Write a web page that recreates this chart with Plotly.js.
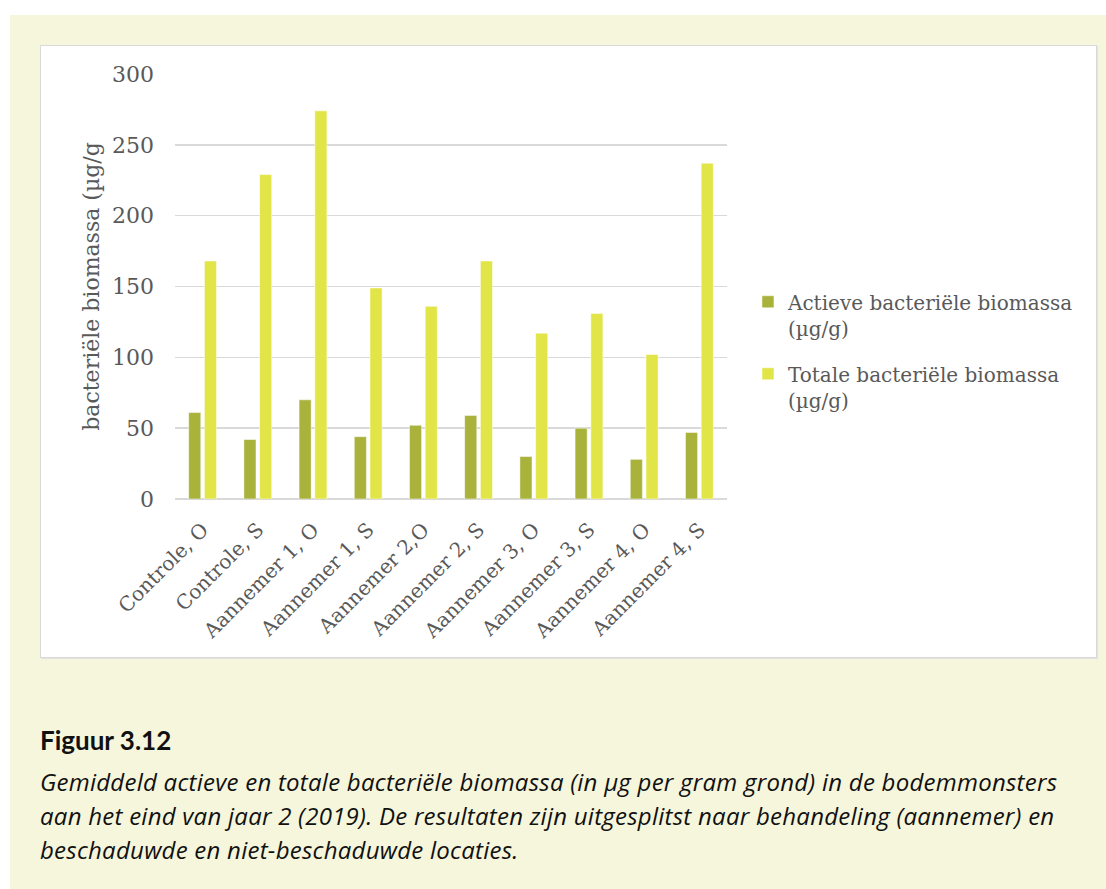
<!DOCTYPE html>
<html>
<head>
<meta charset="utf-8">
<script src="https://cdn.plot.ly/plotly-3.0.1.min.js"></script>
<style>
  html, body { margin:0; padding:0; background:#ffffff; width:1106px; height:889px; overflow:hidden; }
  #panel { position:absolute; left:10px; top:15px; width:1096px; height:874px; background:#f6f6dc; }
  #box { position:absolute; left:40px; top:45px; width:1055px; height:611px; background:#ffffff; border:1.5px solid #d9d9d9; box-shadow:1px 1px 1px #e4e4e4; }
  #chart { position:absolute; left:41px; top:46px; width:1056px; height:612px; }
  #caption { position:absolute; left:40px; top:724px; width:1066px; color:#111; }
  #caption .head { font-family:Lato, sans-serif; font-weight:bold; font-size:26px; line-height:32px; margin-bottom:9px; }
  #caption .body { font-family:"Open Sans", sans-serif; font-style:italic; font-size:24px; letter-spacing:0.25px; line-height:34px; white-space:nowrap; }
</style>
</head>
<body>
<div id="panel"></div>
<div id="box"></div>
<div id="chart"></div>
<div id="caption">
  <div class="head">Figuur 3.12</div>
  <div class="body">Gemiddeld actieve en totale bacteriële biomassa (in µg per gram grond) in de bodemmonsters<br>aan het eind van jaar 2 (2019). De resultaten zijn uitgesplitst naar behandeling (aannemer) en<br>beschaduwde en niet-beschaduwde locaties.</div>
</div>
<script>
const categories = ["Controle, O", "Controle, S", "Aannemer 1, O", "Aannemer 1, S", "Aannemer 2,O",
                    "Aannemer 2, S", "Aannemer 3, O", "Aannemer 3, S", "Aannemer 4, O", "Aannemer 4, S"];
const activeBiomass = [61, 42, 70, 44, 52, 59, 30, 50, 28, 47];
const totalBiomass = [168, 229, 274, 149, 136, 168, 117, 131, 102, 237];
const seriesNames = ["Actieve bacteriële biomassa<br>(µg/g)", "Totale bacteriële biomassa<br>(µg/g)"];
const yTicks = [0, 50, 100, 150, 200, 250, 300];
const yTitle = "bacteriële biomassa (µg/g";

const serif = "DejaVu Serif, serif";
const gray = "#595959";

const traces = [
  { type:"bar", x:categories, y:activeBiomass, name:seriesNames[0], legendgroup:"a",
    marker:{ color:"#a9b23b", line:{ color:"#ffffff", width:0.5 } }, hoverinfo:"skip" },
  { type:"bar", x:categories, y:totalBiomass, name:seriesNames[1], legendgroup:"b",
    marker:{ color:"#e2e547", line:{ color:"#ffffff", width:0.5 } }, hoverinfo:"skip" }
];

const layout = {
  width:1056, height:612,
  margin:{ l:134, r:370, t:28, b:159 },
  paper_bgcolor:"rgba(0,0,0,0)", plot_bgcolor:"#ffffff",
  barmode:"group", bargap:0.43, bargroupgap:0.23,
  showlegend:true,
  legend:{ x:1.038, xanchor:"left", y:0.51, yanchor:"top", xref:"paper",
           font:{ family:serif, size:20, color:gray }, valign:"top", tracegroupgap:17, itemwidth:30 },
  xaxis:{ type:"category", tickangle:-45, tickfont:{ family:serif, size:20, color:gray },
          showgrid:false, showline:false, ticks:"", zeroline:false, fixedrange:true,
          ticklabelstandoff:14 },
  yaxis:{ range:[0, 300], tickvals:yTicks, ticktext:yTicks.map(String),
          tickfont:{ family:serif, size:22, color:gray }, ticks:"", ticklen:0, ticklabelstandoff:20,
          showgrid:true, gridcolor:"#d9d9d9", gridwidth:1.5,
          zeroline:true, zerolinecolor:"#d9d9d9", zerolinewidth:1.5, showline:false,
          title:{ text:yTitle, font:{ family:serif, size:22, color:gray }, standoff:6 },
          automargin:false, fixedrange:true }
};

Plotly.newPlot("chart", traces, layout, { displayModeBar:false, staticPlot:true });
</script>
</body>
</html>
